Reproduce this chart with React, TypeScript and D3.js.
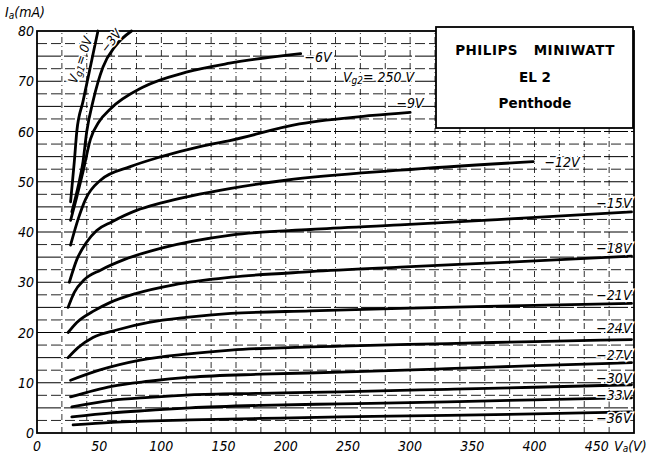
import React from 'react';
import * as d3 from 'd3';

// Ia = f(Va) for EL2, Vg2 = 250 V, one array of [Va (V), Ia (mA)] per grid voltage
const vg0 = [[27, 46], [30, 54], [32, 60], [37, 66], [43, 73], [49, 80]];
const vg3 = [[28, 44], [33, 49], [37, 54], [40, 60], [45, 66], [53, 72.8], [63, 77], [76, 80]];
const vg6 = [[27, 42.3], [32, 47], [37, 52], [43, 58.5], [50, 62], [59, 64.5], [85, 68.8], [120, 71.8], [155, 73.6], [212, 75.5]];
const vg9 = [[27, 37.4], [33, 42.5], [39, 46.5], [51, 50.3], [75, 53], [100, 55], [131, 57], [155, 58.2], [211, 61.5], [270, 63.2], [300, 63.8]];
const vg12 = [[26, 30], [32, 34.5], [40, 38], [48, 40.3], [60, 42], [80, 44.3], [100, 45.8], [156, 48.7], [200, 50.3], [292, 52.3], [399, 54]];
const vg15 = [[25, 25], [30, 28], [38, 30.5], [51, 32.4], [70, 34.5], [100, 36.8], [156, 39.4], [220, 40.5], [292, 41.4], [380, 42.6], [478, 44]];
const vg18 = [[25, 20], [32, 22], [45, 24.2], [59, 26], [80, 27.8], [110, 29.5], [156, 31], [220, 32.1], [292, 33], [380, 34], [478, 35.2]];
const vg21 = [[25, 15], [33, 17], [45, 19], [64, 20.5], [90, 22], [120, 23], [156, 23.8], [220, 24.3], [292, 24.8], [380, 25.3], [478, 25.8]];
const vg24 = [[27, 10.5], [50, 12.5], [83, 14.5], [120, 15.7], [156, 16.5], [244, 17.3], [330, 17.8], [400, 18.2], [478, 18.6]];
const vg27 = [[27, 7.2], [60, 9.3], [90, 10.3], [123, 11.1], [180, 11.7], [244, 12.1], [330, 12.8], [400, 13.4], [478, 14]];
const vg30 = [[28, 5.2], [60, 6.5], [90, 7.1], [123, 7.6], [180, 7.9], [244, 8.2], [330, 8.7], [400, 9.1], [478, 9.6]];
const vg33 = [[28, 3.2], [60, 4], [90, 4.5], [123, 5], [180, 5.5], [244, 5.8], [330, 6.2], [400, 6.6], [478, 7]];
const vg36 = [[29, 1.6], [60, 2.1], [123, 2.6], [180, 2.9], [244, 3.2], [330, 3.5], [400, 3.8], [478, 4.2]];

const curves = [vg0, vg3, vg6, vg9, vg12, vg15, vg18, vg21, vg24, vg27, vg30, vg33, vg36];

const xTicks = [0, 50, 100, 150, 200, 250, 300, 350, 400, 450];
const yTicks = [0, 10, 20, 30, 40, 50, 60, 70, 80];
const curveLabels = ['-6V', '-9V', '-12V', '-15V', '-18V', '-21V', '-24V', '-27V', '-30V', '-33V', '-36V'];

const W = 664;
const H = 458;
const font = "'DejaVu Sans Condensed', 'Liberation Sans Narrow', 'DejaVu Sans', sans-serif";

export default function App() {
  const x = d3.scaleLinear().domain([0, 480]).range([37, 634]);
  const y = d3.scaleLinear().domain([0, 80]).range([433, 31]);

  const line = d3
    .line<number[]>()
    .x(d => x(d[0]))
    .y(d => y(d[1]))
    .curve(d3.curveMonotoneX);

  const hGrid = d3.range(2.5, 80, 2.5);
  const vGrid = d3.range(20, 480, 20);

  // where each label sits, in chart units (Va, Ia) and anchor
  const labelPos: [number, number, string][] = [
    [215, 74.8, 'start'],
    [289, 65.7, 'start'],
    [408, 54, 'start'],
    [478, 45.8, 'end'],
    [478, 36.8, 'end'],
    [478, 27.5, 'end'],
    [478, 20.9, 'end'],
    [478, 15.5, 'end'],
    [478, 10.9, 'end'],
    [478, 7.6, 'end'],
    [478, 3.0, 'end'],
  ];

  const txt = { fontFamily: font, fontStyle: 'italic' as const, fontSize: 14, fill: '#000' };
  const halo = { stroke: '#fff', strokeWidth: 3, paintOrder: 'stroke' as const };

  return (
    <svg width={W} height={H} style={{ position: 'absolute', left: 0, top: 0, background: '#fff' }}>
      <rect width={W} height={H} fill="#fff" />

      {/* grid */}
      <g stroke="#000" strokeWidth={1}>
        {hGrid.map(v => (
          <line key={'h' + v} x1={x(0)} x2={x(480)} y1={y(v)} y2={y(v)} strokeDasharray={v % 5 === 0 ? '24 3' : '10 4'} opacity={v % 5 === 0 ? 1 : 0.85} />
        ))}
        {vGrid.map(v => (
          <line key={'v' + v} x1={x(v)} x2={x(v)} y1={y(0)} y2={y(80)} strokeDasharray="6 3 1 3" opacity={0.8} />
        ))}
      </g>

      {/* frame */}
      <rect x={x(0)} y={y(80)} width={x(480) - x(0)} height={y(0) - y(80)} fill="none" stroke="#000" strokeWidth={1.8} />

      {/* curves */}
      <g fill="none" stroke="#000" strokeWidth={2.8} strokeLinecap="round">
        {curves.map((c, i) => (
          <path key={i} d={line(c) || ''} />
        ))}
      </g>

      {/* curve labels */}
      {curveLabels.map((t, i) => (
        <text
          key={t}
          x={x(labelPos[i][0])}
          y={y(labelPos[i][1])}
          textAnchor={labelPos[i][2] as any}
          dominantBaseline="central"
          {...txt}
          {...halo}
        >
          {t.replace('-', '\u2212')}
        </text>
      ))}
      <text x={x(246)} y={y(70.8)} dominantBaseline="central" {...txt} {...halo}>
        V<tspan fontSize={10} dy={3}>g2</tspan>
        <tspan dy={-3}>= 250 V</tspan>
      </text>
      <text transform="translate(80,60) rotate(-71)" textAnchor="middle" dominantBaseline="central" {...txt} fontSize={13} {...halo}>
        V<tspan fontSize={10} dy={3}>g1</tspan>
        <tspan dy={-3}>= 0V</tspan>
      </text>
      <text transform="translate(111,41) rotate(-52)" textAnchor="middle" dominantBaseline="central" {...txt} fontSize={13} {...halo}>
        {'\u22123V'}
      </text>

      {/* axes labels */}
      {xTicks.map(v => (
        <text key={'x' + v} x={x(v)} y={446} textAnchor="middle" dominantBaseline="central" {...txt}>
          {v}
        </text>
      ))}
      {yTicks.map(v => (
        <text key={'y' + v} x={34} y={y(v)} textAnchor="end" dominantBaseline="central" {...txt}>
          {v}
        </text>
      ))}
      <text x={5} y={17} {...txt}>
        I<tspan fontSize={10} dy={2}>a</tspan>
        <tspan dy={-2}>(mA)</tspan>
      </text>
      <text x={614} y={446} dominantBaseline="central" {...txt}>
        V<tspan fontSize={10} dy={2}>a</tspan>
        <tspan dy={-2}>(V)</tspan>
      </text>

      {/* type box */}
      <rect x={436} y={27} width={197} height={101} fill="#fff" stroke="#000" strokeWidth={1.8} />
      <g fontFamily="'DejaVu Sans', sans-serif" fontWeight="bold" fontSize={13.5} textAnchor="middle" fill="#000">
        <text x={535} y={50} dominantBaseline="central" letterSpacing={0.5} style={{ whiteSpace: 'pre' }}>
          {'PHILIPS   MINIWATT'}
        </text>
        <text x={535} y={77} dominantBaseline="central">EL 2</text>
        <text x={535} y={103} dominantBaseline="central">Penthode</text>
      </g>
    </svg>
  );
}
